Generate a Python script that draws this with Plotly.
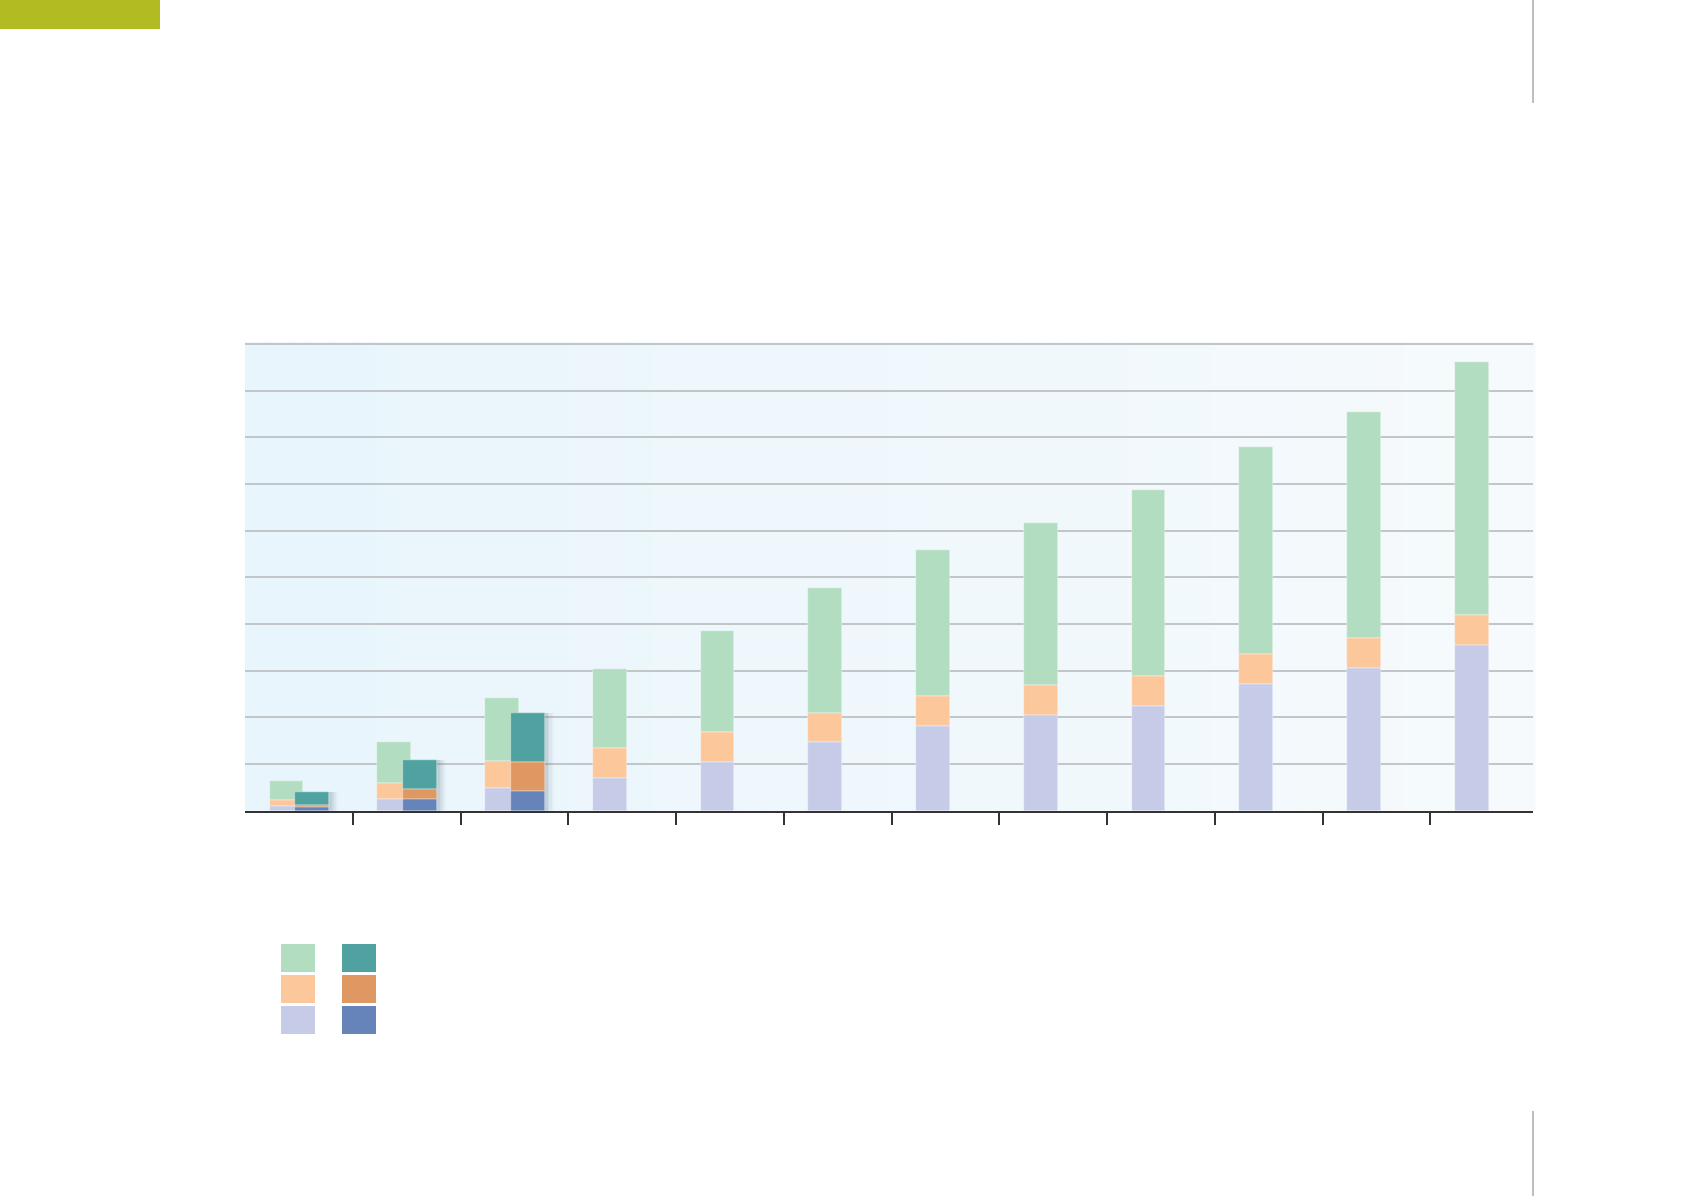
import plotly.graph_objects as go
import numpy as np

W, H = 1692, 1196

# ---- data (y axis in units where one gridline = 10) ----
categories = list(range(12))
light_base = [0.9, 2.4, 4.9, 7.0, 10.4, 14.6, 18.1, 20.4, 22.4, 27.2, 30.6, 35.4]
light_mid = [1.4, 3.6, 5.7, 6.4, 6.5, 6.3, 6.4, 6.5, 6.5, 6.4, 6.4, 6.5]
light_top = [4.0, 8.7, 13.6, 17.0, 21.6, 26.7, 31.3, 34.7, 39.8, 44.2, 48.4, 54.3]

dark_categories = [0, 1, 2]
dark_base = [0.8, 2.4, 4.2]
dark_mid = [0.3, 2.3, 6.2]
dark_top = [2.8, 6.2, 10.4]

light_colors = ["#c6cce8", "#fcc79b", "#b3ddc0"]
dark_colors = ["#6684b9", "#e09862", "#4fa2a0"]

# ---- layout geometry (page pixels) ----
px_left, px_right = 245, 1533
px_bottom = 810.7
px_per_unit = 4.667
y_top = 100.4
px_top = px_bottom - y_top * px_per_unit
cat_w = 107.75
x_max = -0.5 + (px_right - px_left) / cat_w

LIGHT_OFF, DARK_OFF, BAR_W = -0.115, 0.125, 0.315

fig = go.Figure()

def add_stack(xs, layers, colors, off):
    base = np.zeros(len(xs))
    for vals, col in zip(layers, colors):
        vals = np.array(vals, dtype=float)
        fig.add_trace(go.Bar(
            x=np.array(xs) + off, y=vals, base=base, width=BAR_W,
            marker=dict(color=col, line=dict(color="rgba(255,255,255,0.55)", width=0.6)),
            showlegend=False, hoverinfo="skip"))
        base = base + vals

add_stack(categories, [light_base, light_mid, light_top], light_colors, LIGHT_OFF)

# soft drop shadow behind the dark bars
dark_total = np.array(dark_base) + np.array(dark_mid) + np.array(dark_top)
for dx, dw, a in [(0.05, 0.38, 0.035), (0.04, 0.36, 0.05), (0.03, 0.34, 0.07), (0.02, 0.33, 0.08)]:
    fig.add_trace(go.Bar(
        x=np.array(dark_categories) + DARK_OFF + dx, y=dark_total,
        width=dw,
        marker=dict(color=f"rgba(60,80,95,{a})", line=dict(width=0)),
        showlegend=False, hoverinfo="skip"))

add_stack(dark_categories, [dark_base, dark_mid, dark_top], dark_colors, DARK_OFF)

# ---- background gradient inside the plot area ----
shapes = []
left_c = np.array([232, 245, 252])
right_c = np.array([246, 250, 252])
n = 60
for i in range(n):
    t = i / (n - 1)
    c = (left_c * (1 - t) + right_c * t).round().astype(int)
    shapes.append(dict(type="rect", xref="x domain", yref="y domain",
                       x0=i / n, x1=(i + 1) / n + 0.002, y0=0, y1=1,
                       fillcolor=f"rgb({c[0]},{c[1]},{c[2]})", line=dict(width=0),
                       layer="below"))

def py(p):
    return 1 - p / H

def px(p):
    return p / W

# top-left olive banner
shapes.append(dict(type="rect", xref="paper", yref="paper",
                   x0=px(0), x1=px(160), y0=py(29), y1=py(0),
                   fillcolor="#b3bb22", line=dict(width=0)))
# right vertical rules
shapes.append(dict(type="line", xref="paper", yref="paper",
                   x0=px(1533), x1=px(1533), y0=py(0), y1=py(103),
                   line=dict(color="#bbbec2", width=2)))
shapes.append(dict(type="line", xref="paper", yref="paper",
                   x0=px(1533), x1=px(1533), y0=py(1111), y1=py(1196),
                   line=dict(color="#bbbec2", width=2)))

# legend swatches
rows = [(944, 972), (975, 1003), (1006, 1034)]
for (y0, y1), lc, dc in zip(rows, light_colors[::-1], dark_colors[::-1]):
    shapes.append(dict(type="rect", xref="paper", yref="paper",
                       x0=px(281), x1=px(315), y0=py(y1), y1=py(y0),
                       fillcolor=lc, line=dict(width=0)))
    shapes.append(dict(type="rect", xref="paper", yref="paper",
                       x0=px(342), x1=px(376), y0=py(y1), y1=py(y0),
                       fillcolor=dc, line=dict(width=0)))

fig.update_layout(
    width=W, height=H,
    margin=dict(l=0, r=0, t=0, b=0),
    paper_bgcolor="white", plot_bgcolor="rgba(0,0,0,0)",
    barmode="overlay", bargap=0,
    shapes=shapes,
    xaxis=dict(domain=[px(px_left), px(px_right)], range=[-0.5, x_max],
               tickvals=[c + 0.5 for c in categories[:-1]], ticktext=[""] * 11,
               ticks="outside", ticklen=12, tickwidth=1.6, tickcolor="#333",
               showgrid=False, zeroline=False,
               showline=True, linecolor="#333", linewidth=1.8),
    yaxis=dict(domain=[py(px_bottom), py(px_top)], range=[0, y_top],
               tickvals=list(range(10, 101, 10)), showticklabels=False,
               showgrid=True, gridcolor="#c3c6c9", gridwidth=1.5,
               zeroline=False, showline=False, ticks=""),
)

fig.write_html("out.html", config={"displayModeBar": False},
               post_script="document.body.style.margin='0';")
